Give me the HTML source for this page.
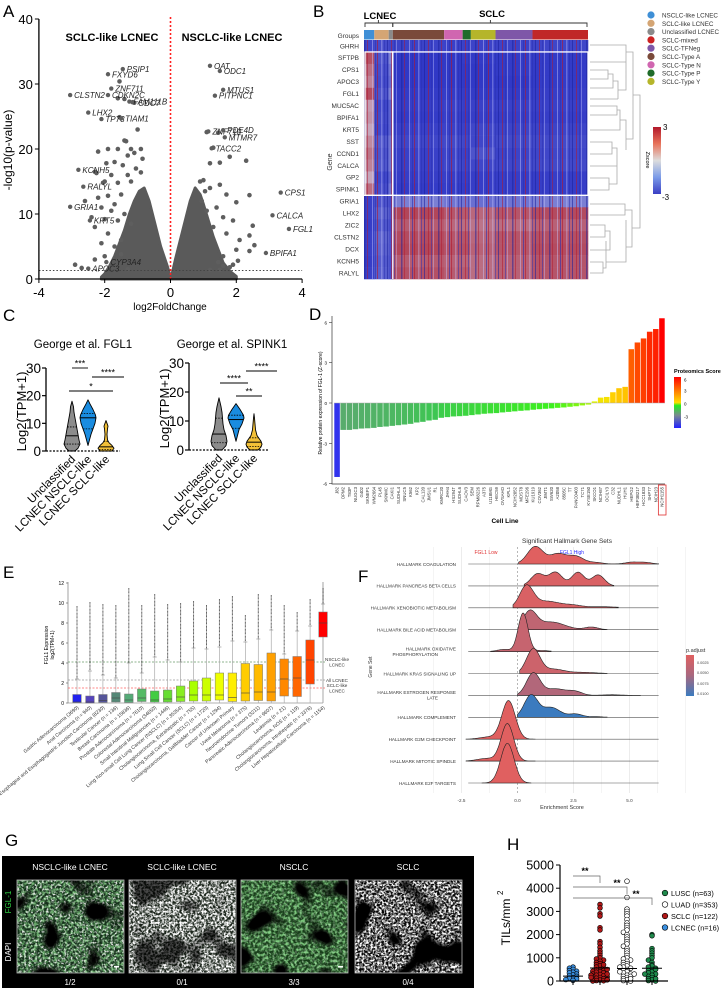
<!DOCTYPE html>
<html><head><meta charset="utf-8"><title>FGL1 multi-panel figure</title>
<style>
html,body{margin:0;padding:0;background:#fff;}
svg{display:block;font-family:"Liberation Sans",Arial,sans-serif;}
</style></head>
<body>
<svg id="fig" width="725" height="992" viewBox="0 0 725 992" xmlns="http://www.w3.org/2000/svg">
<defs>
  <linearGradient id="zgrad" x1="0" y1="0" x2="0" y2="1">
    <stop offset="0" stop-color="#b2182b"/><stop offset="0.25" stop-color="#e8735a"/><stop offset="0.5" stop-color="#dddddd"/><stop offset="0.75" stop-color="#7b9be8"/><stop offset="1" stop-color="#3a3fc4"/>
  </linearGradient>
  <linearGradient id="pgrad" x1="0" y1="0" x2="0" y2="1">
    <stop offset="0" stop-color="#ff0000"/><stop offset="0.3" stop-color="#ff8800"/><stop offset="0.5" stop-color="#ffdd00"/><stop offset="0.56" stop-color="#22ee22"/><stop offset="0.75" stop-color="#7a8a90"/><stop offset="1" stop-color="#2222ff"/>
  </linearGradient>
  <linearGradient id="padjgrad" x1="0" y1="0" x2="0" y2="1">
    <stop offset="0" stop-color="#e06060"/><stop offset="0.5" stop-color="#a8687f"/><stop offset="1" stop-color="#3b7bbf"/>
  </linearGradient>
  <pattern id="stripes" x="0" y="0" width="37" height="12" patternUnits="userSpaceOnUse">
    <rect x="2" y="0" width="1" height="12" fill="#c8c8ff" opacity="0.45"/>
    <rect x="5" y="0" width="1" height="12" fill="#2a30b0" opacity="0.6"/>
    <rect x="7" y="0" width="1" height="12" fill="#b2182b" opacity="0.6"/>
    <rect x="11" y="0" width="1.5" height="12" fill="#c8c8ff" opacity="0.35"/>
    <rect x="14" y="0" width="1" height="12" fill="#2a30b0" opacity="0.5"/>
    <rect x="17" y="0" width="1" height="12" fill="#1a1f9a" opacity="0.55"/>
    <rect x="21" y="0" width="1" height="12" fill="#b2182b" opacity="0.55"/>
    <rect x="24" y="0" width="1" height="12" fill="#2a30b0" opacity="0.5"/>
    <rect x="26" y="0" width="1" height="12" fill="#c8c8ff" opacity="0.4"/>
    <rect x="31" y="0" width="1.5" height="12" fill="#1a1f9a" opacity="0.5"/>
    <rect x="34" y="0" width="1" height="12" fill="#b2182b" opacity="0.5"/>
  </pattern>
  <filter id="speckW" x="0" y="0" width="100%" height="100%">
    <feTurbulence type="fractalNoise" baseFrequency="0.45" numOctaves="2" seed="3"/>
    <feColorMatrix type="matrix" values="0 0 0 0 1  0 0 0 0 1  0 0 0 0 1  4 0 0 0 -1.9"/>
  </filter>
  <filter id="speckW2" x="0" y="0" width="100%" height="100%">
    <feTurbulence type="fractalNoise" baseFrequency="0.45" numOctaves="2" seed="8"/>
    <feColorMatrix type="matrix" values="0 0 0 0 1  0 0 0 0 1  0 0 0 0 1  4 0 0 0 -1.7"/>
  </filter>
  <filter id="speckG" x="0" y="0" width="100%" height="100%">
    <feTurbulence type="fractalNoise" baseFrequency="0.35" numOctaves="2" seed="5"/>
    <feColorMatrix type="matrix" values="0 0 0 0 0.25  0 0 0 0 0.7  0 0 0 0 0.25  3 0 0 0 -1.2"/>
  </filter>
  <filter id="blobs" x="0" y="0" width="100%" height="100%">
    <feTurbulence type="fractalNoise" baseFrequency="0.03" numOctaves="2" seed="11"/>
    <feColorMatrix type="matrix" values="0 0 0 0 0  0 0 0 0 0  0 0 0 0 0  8 0 0 0 -4.2"/>
  </filter>
</defs>
<g id="root"></g>
</svg>
<script>
// ================= DATA =================
const volcLabelGenes = ["PSIP1","FXYD6","ZNF711","CLSTN2","CDKN2C","CDC7","FAM111B","LHX2","TP73","TIAM1","KCNH5","RALYL","GRIA1","KRT5","CYP3A4","APOC3","OAT","ODC1","MTUS1","PITPNC1","ZNF710","PDE4D","MTMR7","TACC2","CPS1","CALCA","FGL1","BPIFA1"];
const volcLabelFC = [-1.45,-1.9,-1.8,-3.05,-1.9,-1.1,-1.25,-2.5,-2.1,-1.5,-2.8,-2.65,-3.05,-2.45,-1.95,-2.5,1.2,1.5,1.6,1.35,1.15,1.6,1.65,1.25,3.35,3.1,3.6,2.9];
const volcLabelP = [32.3,31.5,29.3,28.3,28.3,27.1,27.3,25.6,24.6,24.7,16.8,14.2,11.1,9.0,2.6,1.6,32.8,32.0,29.1,28.2,22.7,22.9,21.8,20.1,13.3,9.8,7.7,4.0];
const volcFC = [-1.55,-1.35,-1.0,-1.2,-1.6,-1.9,-2.2,-1.1,-0.9,-1.3,-1.7,-0.85,-1.95,-1.45,-1.05,-2.3,-1.8,-1.3,-0.9,-2.0,-1.6,-1.2,-2.6,-2.2,-1.9,-1.5,-1.7,-2.1,-1.8,-1.4,-2.4,-2.0,-1.6,-1.2,-2.3,-1.9,-1.5,-2.1,-1.7,-2.0,-2.3,-1.5,-2.7,-2.9,-1.3,-1.6,-1.4,-1.15,-1.55,-2.25,-2.05,-1.4,
  2.3,1.8,1.2,1.0,0.9,1.5,1.2,1.7,2.4,2.0,1.4,1.1,1.6,1.9,2.5,1.3,1.7,2.4,2.1,2.0,2.4,2.55,1.6,2.05,1.9,1.8,1.5,1.2,1.6,0.95,1.05,1.1,1.45,1.5,1.3,1.45];
const volcP = [30.4,21.2,23.0,20.0,20.0,20.0,19.6,19.4,20.0,19.0,18.0,18.5,17.8,17.5,17.0,16.5,16.0,16.0,16.4,15.0,14.8,15.0,12.0,12.5,12.8,13.0,11.5,11.0,10.5,10.0,9.5,9.2,9.0,8.5,8.0,7.0,6.0,5.5,5.0,3.5,3.0,3.8,1.7,2.2,1.5,27.8,27.7,27.2,24.9,16.3,14.8,21.3,
  18.2,18.8,17.8,15.2,15.0,14.5,14.0,13.0,12.9,11.8,11.0,10.5,9.5,9.0,8.2,8.0,7.0,6.7,6.0,4.5,4.3,5.2,3.5,2.8,2.2,1.8,1.4,1.4,2.0,12.0,13.5,22.6,22.5,17.9,20.2,2.6];
const cloudFC = [0,-0.1,-0.3,-0.5,-0.65,-0.8,-0.95,-1.1,-1.25,-1.4,-1.55,-1.7,-1.85,-2.0,-2.1,-2.1,2.0,2.0,1.8,1.6,1.45,1.3,1.15,1.0,0.9,0.75,0.6,0.45,0.3,0.15,0.05];
const cloudP  = [0.3,2,5,9,12,14,13.5,12,10,7.5,5.5,3.5,2,0.8,0.3,0,0,0.4,1.2,2.5,4.5,6.5,9,11.5,13,14,12,9,6,3,0.8];
const volcXTicks = [-4,-2,0,2,4];
const volcYTicks = [0,10,20,30,40];

const heatGenes = ["GHRH","SFTPB","CPS1","APOC3","FGL1","MUC5AC","BPIFA1","KRT5","SST","CCND1","CALCA","GP2","SPINK1","GRIA1","LHX2","ZIC2","CLSTN2","DCX","KCNH5","RALYL"];
const heatGroups = ["NSCLC-like LCNEC","SCLC-like LCNEC","Unclassified LCNEC","SCLC-Type A","SCLC-Type N","SCLC-Type P","SCLC-Type Y","SCLC-TFNeg","SCLC-mixed"];
const heatGroupCounts = [5,7,2,25,9,4,12,18,27];
const legendGroups = ["NSCLC-like LCNEC","SCLC-like LCNEC","Unclassified LCNEC","SCLC-mixed","SCLC-TFNeg","SCLC-Type A","SCLC-Type N","SCLC-Type P","SCLC-Type Y"];
const legendColors = ["#3f8fd6","#d4a574","#8a8a8a","#cc2222","#7e57a8","#7a4a3a","#d066b0","#1f6b2a","#b5b52a"];
const heatZ = [
 [-2.0,-1.8,-2.0,-2.1,-2.2,-2.2,-2.1,-2.1,-2.0],
 [1.4,-1.6,-0.5,-2.5,-2.5,-2.4,-2.4,-2.4,-2.4],
 [0.9,-1.8,-0.8,-2.5,-2.5,-2.5,-2.5,-2.4,-2.4],
 [0.6,-1.9,-1.0,-2.5,-2.5,-2.5,-2.5,-2.5,-2.4],
 [1.5,-1.6,-0.6,-2.4,-2.4,-2.4,-2.4,-2.4,-2.3],
 [0.3,-2.0,-1.2,-2.3,-2.2,-2.3,-2.2,-2.2,-2.2],
 [0.4,-1.9,-1.2,-2.4,-2.3,-2.4,-2.3,-2.3,-2.3],
 [0.2,-2.0,-1.2,-2.2,-2.2,-2.2,-2.0,-2.1,-2.1],
 [0.5,-1.4,-0.8,-2.0,-1.9,-2.0,-2.0,-1.9,-1.9],
 [0.8,-1.6,-0.8,-2.2,-2.1,-2.2,-1.6,-2.1,-2.0],
 [0.6,-1.5,-0.8,-2.2,-2.0,-2.1,-2.0,-2.0,-1.9],
 [0.2,-2.0,-1.2,-2.3,-2.3,-2.3,-2.3,-2.3,-2.3],
 [0.9,-1.8,-0.8,-2.4,-2.4,-2.4,-2.3,-2.3,-2.3],
 [-2.2,-1.6,-1.8,-0.6,-0.8,-0.8,-0.9,-0.8,-0.6],
 [-2.2,-1.2,-1.6,1.6,1.3,1.2,1.0,1.3,1.5],
 [-2.3,-1.5,-1.8,1.2,1.0,0.9,0.8,0.9,1.1],
 [-2.2,-1.1,-1.6,1.5,1.3,1.3,1.0,1.3,1.4],
 [-2.2,-1.2,-1.6,1.6,1.4,1.4,1.1,1.3,1.5],
 [-2.3,-1.4,-1.7,1.2,1.1,1.0,0.9,1.1,1.3],
 [-2.2,-1.3,-1.7,1.4,1.2,1.2,0.9,1.1,1.3]
];

const violinCats = ["Unclassified","LCNEC NSCLC-like","LCNEC SCLC-like"];
const fglProfiles = [
 [[0,3],[1,6],[2.5,8],[4,7],[6,6],[8,5],[10,4],[12,3],[14,2],[16,1.5],[18,0]],
 [[2,0],[4,1.5],[6,3],[8,5],[10,7],[12,8],[13,7.5],[15,5],[17,2],[18.5,0]],
 [[0,6],[1,8],[2,6],[3,3],[4,1.5],[6,1],[8,1.5],[9,2],[10,1],[11,0]]
];
const fglQuart = [[2.5,5.5,8.7],[8,12,13.5],[0.5,1.5,3.5]];
const spkProfiles = [
 [[0,3],[1.5,7],[3,8],[5,7],[7,5],[9,4],[11,3.5],[13,3],[15,2],[18,0]],
 [[3,0],[5,1.5],[7,3],[9,6],[11,8],[12,7.5],[14,4],[16,0]],
 [[0,4],[1,7],[2,8],[3,7],[4,5],[5,3],[7,1.5],[9,1],[11,0.5],[12.5,0]]
];
const spkQuart = [[2.5,5.5,11],[7.5,10.5,12],[1.2,2.7,4.2]];
const violinTicks = [0,10,20,30];

const cellLines = ["J82","OPM2","T83P","NUGC3","G402","SKNEP1","WM2664","PL45","SKNMC","CAKI1","SUDHL4","SNUC5","K562","KP2","CAL120","JMSU1","RL","KMRC20","JHH4","HS294T","SUDHL6","CAOV3","SEM","RPMI8226","A375","U118MG","HEC59","OVSAHO","KPL1","NCIH2052","MDST8","MFE296","KU1919","COV362","JIMT1","SW620","A2058","8505C","TT","PANC0403","TC71","KYSE150","SKCO1","NCIH87","OCILY3","C32","NUDHL1","HUH1","HEPG2","HEP3B217","HCC1833","SHP77","NCIH23","NCIH1155"];
const fglZ = [-5.5,-2.0,-2.0,-1.95,-1.9,-1.88,-1.85,-1.78,-1.75,-1.7,-1.65,-1.6,-1.55,-1.45,-1.4,-1.3,-1.25,-1.1,-1.05,-1.0,-0.98,-0.95,-0.9,-0.85,-0.8,-0.77,-0.75,-0.7,-0.66,-0.62,-0.58,-0.55,-0.5,-0.46,-0.43,-0.4,-0.36,-0.33,-0.28,-0.24,-0.18,-0.12,0.12,0.4,0.45,0.8,1.1,1.2,4.0,4.5,4.8,5.3,5.5,6.3];
const dTicks = [-6,-3,0,3,6];

const tumorTypes = ["Gastric Adenocarcinoma (3690)","Anal Carcinoma (n = 940)","Esophageal and Esophagogastric Junction Carcinoma (8230)","Testicular Cancer (n = 136)","Breast Carcinoma (n = 15836)","Prostate Adenocarcinoma (n = 7610)","Colorectal Adenocarcinoma (34650)","Small Intestinal Malignancies (n = 1446)","Lung Non-small Cell Lung Cancer (NSCLC) (n = 35354)","Cholangiocarcinoma, Extrahepatic (n = 755)","Lung Small Cell Cancer (SCLC) (n = 1720)","Cholangiocarcinoma, Gallbladder Cancer (n = 1294)","Cancer of Unknown Primary","Uveal Melanoma (n = 375)","Neuroendocrine Tumors (3211)","Pancreatic Adenocarcinoma (n = 9607)","Leukemia (n = 21)","Cholangiocarcinoma, NOS (n = 119)","Cholangiocarcinoma, Intrahepatic (n = 3376)","Liver Hepatocellular Carcinoma (n = 1154)"];
const boxQ1  = [0.05,0,0.05,0.1,0.05,0.15,0.1,0.1,0.15,0.2,0.2,0.3,0.15,0.2,0.25,0.2,0.7,0.65,1.9,6.6];
const boxMed = [0.1,0.1,0.25,0.5,0.3,0.5,0.3,0.4,0.6,0.8,0.8,0.8,0.55,1.0,1.1,1.1,2.4,2.5,4.3,8.0];
const boxQ3  = [0.85,0.7,0.85,1.05,0.9,1.4,1.2,1.3,1.7,2.2,2.5,3.0,3.0,3.95,3.85,5.0,4.4,4.65,6.3,9.1];
const boxWhisk = [2.4,3.2,2.8,2.5,4.0,3.0,4.6,4.3,4.1,5.5,5.4,5.6,6.2,6.1,6.4,7.3,4.9,7.2,7.7,9.9];
const boxOutMax = [9.7,10.1,9.9,9.8,11.5,9.8,10.9,9.9,10.0,10.2,9.8,10.4,10.7,8.8,10.9,10.8,9.8,9.1,10.4,11.5];
const refLines = [4.1,2.3,1.5];
const refLabels = [["NSCLC-like","LCNEC"],["All LCNEC"],["SCLC-like","LCNEC"]];
const eTicks = [0,2,4,6,8,10,12];

const ridgeSets = ["HALLMARK COAGULATION","HALLMARK PANCREAS BETA CELLS","HALLMARK XENOBIOTIC METABOLISM","HALLMARK BILE ACID METABOLISM","HALLMARK OXIDATIVE|PHOSPHORYLATION","HALLMARK KRAS SIGNALING UP","HALLMARK ESTROGEN RESPONSE|LATE","HALLMARK COMPLEMENT","HALLMARK G2M CHECKPOINT","HALLMARK MITOTIC SPINDLE","HALLMARK E2F TARGETS"];
const ridgePadj = [0.0015,0.002,0.002,0.004,0.0035,0.003,0.005,0.0100,0.001,0.001,0.001];
const ridgeRange = [[0.05,6.3],[0.3,4.3],[-0.2,4.5],[0.1,4.0],[-1.2,1.5],[0.1,4.0],[0.0,5.5],[0.0,4.0],[-2.3,0.8],[-2.3,0.8],[-1.6,0.6]];
const ridgeComps = [
 [[0.8,0.8,0.35],[1.8,0.45,0.35],[2.6,0.35,0.35],[3.5,0.07,0.3],[5.1,0.08,0.3],[5.7,0.07,0.3]],
 [[0.9,0.55,0.3],[1.7,0.62,0.3],[2.7,0.62,0.28],[3.6,0.5,0.28]],
 [[0.4,0.95,0.3],[1.3,0.3,0.6],[2.5,0.1,0.4],[3.8,0.05,0.6]],
 [[0.55,0.8,0.3],[1.5,0.35,0.6],[3.3,0.12,0.3]],
 [[0.25,1.75,0.22],[-0.6,0.1,0.3],[1.1,0.05,0.3]],
 [[0.7,1.1,0.3],[1.6,0.2,0.5],[3.0,0.05,0.5]],
 [[0.7,1.0,0.3],[1.7,0.3,0.5],[2.6,0.15,0.3],[4.2,0.03,0.4]],
 [[0.6,1.0,0.3],[1.5,0.45,0.4],[2.6,0.15,0.3],[3.5,0.03,0.3]],
 [[-0.4,1.75,0.3],[-1.3,0.1,0.4]],
 [[-0.45,1.7,0.28],[-1.4,0.12,0.4]],
 [[-0.45,1.8,0.3]]
];
const fTicks = [-2.5,0,2.5,5];

const tilGroups = ["LCNEC (n=16)","SCLC (n=122)","LUAD (n=353)","LUSC (n=63)"];
const tilLCNEC = [600,550,500,450,420,380,350,300,260,220,200,150,120,90,60,30];
const tilSCLC = [3300,3150,2900,2800,2300,2200,1700,1600,1450,1300,1200,1100,1000,950,900,850,800,750,700,650,600,550,500,480,450,420,400,380,350,300,280,250,220,200,180,150,120,100,80,60,40,20,10,0,300,500,700,250,150,50];
const tilLUAD = [4300,3600,3100,3000,2900,2800,2650,2500,2400,2300,2200,2100,2000,1900,1800,1700,1600,1500,1400,1300,1200,1100,1000,950,900,850,800,750,700,650,600,550,500,450,400,350,300,250,200,150,100,50,20,0,400,200,100,600,300];
const tilLUSC = [2000,1950,1400,1300,1200,1100,1000,900,800,700,650,600,550,500,450,400,350,300,250,200,150,100,50,20,0,300,100,500];
const tilMedian = [210,560,540,550];
const tilTicks = [0,1000,2000,3000,4000,5000];

// ================= DRAW =================
const NS = "http://www.w3.org/2000/svg";
const root = document.getElementById("root");
function mk(tag, attrs, parent){
  const e = document.createElementNS(NS, tag);
  for (const k in attrs) e.setAttribute(k, attrs[k]);
  (parent||root).appendChild(e);
  return e;
}
function txt(str, attrs, parent){
  const t = mk("text", attrs, parent);
  t.textContent = str;
  return t;
}
function grp(parent){ return mk("g", {}, parent); }

const letters = [["A",3,17],["B",313,17],["C",3,321],["D",309,320],["E",3,578],["F",358,582],["G",5,846],["H",507,850]];
for (const L of letters){
  const t = txt(L[0], {x:L[1], y:L[2], "font-size":17});
  
  
}

// ---------- Panel A ----------
const gA = grp();  
const xA = v => 170.5 + v*32.9;
const yA = v => 279 - v*6.5;
{
  let pts = cloudFC.map((f,i)=> xA(f)+","+yA(cloudP[i])).join(" ");
  const cl = mk("polygon",{points:pts, fill:"#5a5a5a", stroke:"#5a5a5a","stroke-width":3,"stroke-linejoin":"round"}, gA);
   
  for (let i=0;i<volcFC.length;i++){
    const c = mk("circle",{cx:xA(volcFC[i]), cy:yA(volcP[i]), r:2.3, fill:"#5e5e5e"}, gA);
     
  }
  for (let i=0;i<volcLabelGenes.length;i++){
    const c = mk("circle",{cx:xA(volcLabelFC[i]), cy:yA(volcLabelP[i]), r:2.2, fill:"#5e5e5e"}, gA);
     
    const t = txt(volcLabelGenes[i], {x:xA(volcLabelFC[i])+4, y:yA(volcLabelP[i])+3, "font-size":8, "font-style":"italic", fill:"#222"}, gA);
     
  }
  const thr = mk("line",{x1:xA(-4),x2:xA(4),y1:yA(1.3),y2:yA(1.3),stroke:"#444","stroke-width":1,"stroke-dasharray":"1.5,2"}, gA);
   
  const zl = mk("line",{x1:xA(0),x2:xA(0),y1:17,y2:yA(0),stroke:"#ff2020","stroke-width":1.6,"stroke-dasharray":"2,2"}, gA);
   
  const ax = mk("path",{d:`M${xA(-4)},${yA(40)} V${yA(0)} H${xA(4)}`, fill:"none", stroke:"#000","stroke-width":1.3}, gA);
   
  for (const v of volcYTicks){
    mk("line",{x1:xA(-4)-4,x2:xA(-4),y1:yA(v),y2:yA(v),stroke:"#000"}, gA);
    const t = txt(String(v),{x:xA(-4)-6,y:yA(v)+5,"font-size":13,"text-anchor":"end"}, gA);
     
  }
  for (const v of volcXTicks){
    mk("line",{x1:xA(v),x2:xA(v),y1:yA(0),y2:yA(0)+4,stroke:"#000"}, gA);
    const t = txt(String(v),{x:xA(v),y:297,"font-size":13,"text-anchor":"middle"}, gA);
     
  }
  const yl = txt("-log10(p-value)",{x:0,y:0,"font-size":12,"text-anchor":"middle",transform:"translate(12,150) rotate(-90)"}, gA);
   
  const xl = txt("log2FoldChange",{x:170,y:310,"font-size":10,"text-anchor":"middle"}, gA);
   
  const t1 = txt("SCLC-like LCNEC",{x:112,y:41,"font-size":11,"font-weight":"bold","text-anchor":"middle"}, gA);
   
  const t2 = txt("NSCLC-like LCNEC",{x:232,y:41,"font-size":11,"font-weight":"bold","text-anchor":"middle"}, gA);
   
}

// ---------- Panel B ----------
const gB = grp();  
function zcol(z){
  const t = Math.max(-2.5,Math.min(2.5,z));
  const mid=[205,205,228], blue=[48,56,198], red=[170,28,48];
  let c;
  if (t<0){ const f=Math.pow(-t/2.5,0.45); c=mid.map((x,k)=>Math.round(x+(blue[k]-x)*f)); }
  else { const f=Math.pow(t/2.5,0.6); c=mid.map((x,k)=>Math.round(x+(red[k]-x)*f)); }
  return `rgb(${c[0]},${c[1]},${c[2]})`;
}
{
  const hx0=364, hx1=588, hy0=40, rowH=11.95;
  const total = heatGroupCounts.reduce((a,b)=>a+b,0);
  const colW = (hx1-hx0)/total;
  const gcolors = {"NSCLC-like LCNEC":"#3f8fd6","SCLC-like LCNEC":"#d4a574","Unclassified LCNEC":"#8a8a8a","SCLC-Type A":"#7a4a3a","SCLC-Type N":"#d066b0","SCLC-Type P":"#1f6b2a","SCLC-Type Y":"#b5b52a","SCLC-TFNeg":"#7e57a8","SCLC-mixed":"#c02828"};
  let cx = hx0;
  const starts=[];
  for (let g=0; g<heatGroups.length; g++){
    const w = heatGroupCounts[g]*colW;
    starts.push(cx);
    const r = mk("rect",{x:cx,y:30,width:w,height:9.5,fill:gcolors[heatGroups[g]]}, gB);
     
    for (let i=0;i<heatGenes.length;i++){
      const c = mk("rect",{x:cx,y:hy0+i*rowH,width:w+0.3,height:rowH+0.3,fill:zcol(heatZ[i][g])}, gB);
       
    }
    cx += w;
  }
  const tex = mk("rect",{x:hx0,y:hy0,width:hx1-hx0,height:rowH*20,fill:"url(#stripes)"}, gB);
   
  const split = starts[3];
  const box1 = mk("rect",{x:hx0+1,y:hy0+rowH,width:split-hx0-1,height:rowH*12,fill:"none",stroke:"#fff","stroke-width":1.3}, gB);
   
  const box2 = mk("rect",{x:split,y:hy0+rowH,width:hx1-split,height:rowH*12,fill:"none",stroke:"#fff","stroke-width":1.3}, gB);
   
  mk("line",{x1:split,x2:split,y1:hy0+rowH*13,y2:hy0+rowH*20,stroke:"#fff","stroke-width":1.2}, gB);
  mk("line",{x1:hx0,x2:hx1,y1:hy0+rowH*13,y2:hy0+rowH*13,stroke:"#fff","stroke-width":1.2}, gB);
  const gl = txt("Groups",{x:359,y:38,"font-size":6.5,"text-anchor":"end",fill:"#333"}, gB);
   
  for (let i=0;i<heatGenes.length;i++){
    const t = txt(heatGenes[i],{x:359,y:hy0+i*rowH+rowH/2+2.3,"font-size":6.5,"text-anchor":"end",fill:"#333"}, gB);
     
  }
  const gy = txt("Gene",{x:0,y:0,"font-size":7,"text-anchor":"middle",fill:"#333",transform:"translate(332,162) rotate(-90)"}, gB);
   
  const br1 = mk("path",{d:`M${hx0+1},27 V23 H${split} V27 M${(hx0+split)/2},23 V20`,fill:"none",stroke:"#333","stroke-width":0.9}, gB);
   
  const br2 = mk("path",{d:`M${split},27 V23 H${hx1-1} V27 M${(split+hx1)/2},23 V20`,fill:"none",stroke:"#333","stroke-width":0.9}, gB);
   
  const l1 = txt("LCNEC",{x:380,y:19,"font-size":9.5,"font-weight":"bold","text-anchor":"middle"}, gB);
   
  const l2 = txt("SCLC",{x:492,y:17,"font-size":9.5,"font-weight":"bold","text-anchor":"middle"}, gB);
   
  const dg = mk("path",{d:
   "M590,45 H626 V62 H590 M590,62 H626 M626,52 H633 V139 H626 " +
   "M590,70 H608 V79 H590 M608,74 H613 V88 H590 M613,81 H618 V99 H618 M590,99 H618 M618,90 H626 V62 " +
   "M590,106 H617 V115 H590 M617,110 H620 V130 H590 M590,142 H612 V154 H590 M612,148 H617 V166 H590 M590,178 H609 V190 H590 M609,184 H617 V160 M620,120 H626 V150 " +
   "M590,204 H625 V215 H590 M625,210 H632 V247 H626 M590,225 H605 V237 H590 M605,231 H610 V250 H590 M590,262 H603 V273 H590 M603,268 H606 V241 M626,220 V262 H606 M632,228 H640 V95 H633",
   fill:"none",stroke:"#aaa","stroke-width":0.8}, gB);
   
  for (let i=0;i<legendGroups.length;i++){
    const c = mk("circle",{cx:651,cy:15+i*8.3,r:3.6,fill:legendColors[i]}, gB);
     
    const t = txt(legendGroups[i],{x:662,y:17.5+i*8.3,"font-size":6.3,fill:"#333"}, gB);
     
  }
  const cb = mk("rect",{x:653,y:127,width:8,height:67,fill:"url(#zgrad)"}, gB);
   
  txt("3",{x:663,y:130,"font-size":8}, gB);
  txt("-3",{x:662,y:200,"font-size":8}, gB);
  const zl = txt("Zscore",{x:0,y:0,"font-size":5.5,"text-anchor":"middle",transform:"translate(646,160) rotate(90)"}, gB);
   
}

// ---------- Panel C ----------
function violinChart(name, title, titleX, axX, cats, yTop, yZero, profiles, quart, colors, sigs){
  const g = grp();  
  const yC = v => yZero - v*(yZero-yTop)/30;
  const tt = txt(title,{x:titleX,y:348,"font-size":11.5,"text-anchor":"middle"}, g);
   
  for (let k=0;k<profiles.length;k++){
    const p = profiles[k], x = cats[k];
    let d = "M"+(x)+","+yC(p[0][0]);
    for (const q of p) d += " L"+(x+q[1])+","+yC(q[0]);
    for (let j=p.length-1;j>=0;j--) d += " L"+(x-p[j][1])+","+yC(p[j][0]);
    d += "Z";
    const v = mk("path",{d:d,fill:colors[k],stroke:"#000","stroke-width":0.9,"stroke-linejoin":"round"}, g);
     
    const wAt = val => { for (let j=1;j<p.length;j++){ if (val<=p[j][0]){ const f=(val-p[j-1][0])/(p[j][0]-p[j-1][0]); return p[j-1][1]+f*(p[j][1]-p[j-1][1]); } } return 0; };
    quart[k].forEach((qv,qi)=>{
      const w = wAt(qv);
      const l = mk("line",{x1:x-w,x2:x+w,y1:yC(qv),y2:yC(qv),stroke:"#000","stroke-width":qi===1?1:0.8,"stroke-dasharray":qi===1?"":"1.5,1.2"}, g);
       
    });
  }
  const ax = mk("line",{x1:axX,x2:axX,y1:yC(30),y2:yC(0),stroke:"#000","stroke-width":1.3}, g);
   
  const bl = mk("line",{x1:axX,x2:cats[2]+14,y1:yC(0),y2:yC(0),stroke:"#000","stroke-width":1.3,"stroke-dasharray":"2,1.5"}, g);
   
  for (const v of violinTicks){
    mk("line",{x1:axX-4,x2:axX,y1:yC(v),y2:yC(v),stroke:"#000","stroke-width":1.2}, g);
    const t = txt(String(v),{x:axX-5,y:yC(v)+5,"font-size":13.5,"text-anchor":"end"}, g);
     
  }
  const yl = txt("Log2(TPM+1)",{x:0,y:0,"font-size":13,"text-anchor":"middle",transform:`translate(${axX-20},${(yC(0)+yC(30))/2+2}) rotate(-90)`}, g);
   
  for (let k=0;k<cats.length;k++){
    const t = txt(violinCats[k],{x:0,y:0,"font-size":11.5,"text-anchor":"end",transform:`translate(${cats[k]+4},${yC(0)+9}) rotate(-45)`}, g);
     
  }
  for (const s of sigs){
    const l = mk("line",{x1:s[0],x2:s[1],y1:s[2],y2:s[2],stroke:"#000","stroke-width":0.9}, g);
     
    const t = txt(s[3],{x:(s[0]+s[1])/2,y:s[2]-1.5,"font-size":9,"text-anchor":"middle"}, g);
     
  }
}
violinChart("violin-fgl1","George et al. FGL1",83,46,[72,88,106],368,451,fglProfiles,fglQuart,["#8c8c8c","#1a8ce0","#f2c037"],
  [[72,88,368,"***"],[92,124,377,"****"],[69,113,391,"*"]]);
violinChart("violin-spink1","George et al. SPINK1",232,189,[219,236,254],363,450,spkProfiles,spkQuart,["#8c8c8c","#1a8ce0","#f2c037"],
  [[246,277,371,"****"],[220,248,383,"****"],[236,262,396,"**"]]);

// ---------- Panel D ----------
const gD = grp();  
const yD = v => 403 - v*13.45;
const dx0 = 334, dx1 = 665;
const dbw = (dx1-dx0)/fglZ.length;
function pcol(v){
  const stops = [[-6,[34,34,255]],[-3,[122,138,144]],[-1.2,[60,200,80]],[-0.4,[60,240,30]],[0,[220,255,0]],[0.6,[255,215,0]],[3,[255,136,0]],[6.3,[255,0,0]]];
  if (v<=stops[0][0]) return "rgb(34,34,255)";
  for (let i=1;i<stops.length;i++){
    if (v<=stops[i][0]){
      const f=(v-stops[i-1][0])/(stops[i][0]-stops[i-1][0]);
      const a=stops[i-1][1], b=stops[i][1];
      return `rgb(${Math.round(a[0]+(b[0]-a[0])*f)},${Math.round(a[1]+(b[1]-a[1])*f)},${Math.round(a[2]+(b[2]-a[2])*f)})`;
    }
  }
  return "rgb(255,0,0)";
}
{
  for (let i=0;i<fglZ.length;i++){
    const v = fglZ[i];
    const r = mk("rect",{x:dx0+i*dbw+0.3,y:Math.min(yD(v),yD(0)),width:dbw-0.6,height:Math.abs(yD(v)-yD(0)),fill:pcol(v)}, gD);
     
    const t = txt(cellLines[i],{x:0,y:0,"font-size":4.3,"text-anchor":"end",fill:"#333",transform:`translate(${dx0+i*dbw+dbw/2+1.5},487) rotate(-90)`}, gD);
     
  }
  const hl = mk("rect",{x:dx0+(fglZ.length-1)*dbw-0.5,y:485,width:dbw+1.5,height:30,fill:"none",stroke:"#e03030","stroke-width":0.8}, gD);
   
  mk("line",{x1:dx0,x2:dx1,y1:yD(0),y2:yD(0),stroke:"#aaa","stroke-width":0.6}, gD);
  const ax = mk("path",{d:`M332,316 V484 H${dx1}`,fill:"none",stroke:"#333","stroke-width":0.7}, gD);
   
  for (const v of dTicks){
    mk("line",{x1:329,x2:332,y1:yD(v),y2:yD(v),stroke:"#333","stroke-width":0.6}, gD);
    const t = txt(String(v),{x:327,y:yD(v)+2,"font-size":4.5,"text-anchor":"end"}, gD);
     
  }
  const yl = txt("Relative protein expression of FGL-1 (Z-score)",{x:0,y:0,"font-size":5,"text-anchor":"middle",transform:"translate(322,403) rotate(-90)"}, gD);
   
  const xl = txt("Cell Line",{x:505,y:523,"font-size":6.5,"font-weight":"bold","text-anchor":"middle"}, gD);
   
  const lt = txt("Proteomics Score",{x:674,y:373,"font-size":5.5,"font-weight":"bold"}, gD);
   
  const cb = mk("rect",{x:674,y:377,width:7,height:51,fill:"url(#pgrad)"}, gD);
   
  [["6",380],["3",391],["0",404],["-3",417]].forEach(a=>{ txt(a[0],{x:684,y:a[1]+1.5,"font-size":4.5}, gD); });
}

// ---------- Panel E ----------
const gE = grp();  
const xE = i => 77 + i*12.95;
const yE = v => 703 - v*10;
const boxColors = ["#2222ee","#5544bb","#555599","#558877","#55aa77","#55bb66","#44cc44","#66dd33","#88ee22","#aaff00","#ccff00","#eeff00","#ffee00","#ffcc00","#ffbb00","#ffa000","#ff8800","#ff6600","#ff4400","#ff0000"];
{
  for (const v of eTicks){
    mk("line",{x1:66,x2:68,y1:yE(v),y2:yE(v),stroke:"#555","stroke-width":0.6}, gE);
    const t = txt(String(v),{x:64,y:yE(v)+1.8,"font-size":5,"text-anchor":"end"}, gE);
     
  }
  mk("path",{d:"M68,582 V703 H323 M323,582 V703",fill:"none",stroke:"#666","stroke-width":0.6}, gE);
  const refCols = ["#6a9a6a","#999","#ff6060"];
  refLines.forEach((v,i)=>{
    const l = mk("line",{x1:68,x2:325,y1:yE(v),y2:yE(v),stroke:refCols[i],"stroke-width":0.7,"stroke-dasharray":"2,1.5"}, gE);
     
    refLabels[i].forEach((s,j)=>{
      const t = txt(s,{x:337,y:yE(v)+j*5.5-(refLabels[i].length>1?1:-2),"font-size":4.6,"text-anchor":"middle",fill:"#333"}, gE);
       
    });
  });
  for (let i=0;i<tumorTypes.length;i++){
    const x = xE(i);
    const ol = mk("line",{x1:x,x2:x,y1:yE(boxOutMax[i]),y2:yE(boxWhisk[i]),stroke:"#333","stroke-width":1,"stroke-dasharray":"0.8,0.6"}, gE);
     
    const wk = mk("line",{x1:x,x2:x,y1:yE(boxWhisk[i]),y2:yE(0),stroke:"#aaa","stroke-width":0.7}, gE);
     
    mk("line",{x1:x-2,x2:x+2,y1:yE(boxWhisk[i]),y2:yE(boxWhisk[i]),stroke:"#888","stroke-width":0.6}, gE);
    const b = mk("rect",{x:x-4.3,y:yE(boxQ3[i]),width:8.6,height:yE(boxQ1[i])-yE(boxQ3[i]),fill:boxColors[i],stroke:"#777","stroke-width":0.5}, gE);
     
    const m = mk("line",{x1:x-4.3,x2:x+4.3,y1:yE(boxMed[i]),y2:yE(boxMed[i]),stroke:"#444","stroke-width":0.6}, gE);
     
    const t = txt(tumorTypes[i],{x:0,y:0,"font-size":5,"text-anchor":"end",fill:"#333",transform:`translate(${x+2},708) rotate(-40)`}, gE);
     
  }
  const yl = txt("FGL1 Expression",{x:0,y:0,"font-size":5,"text-anchor":"middle",transform:"translate(48,645) rotate(-90)"}, gE);
   
  txt("log2(TPM+1)",{x:0,y:0,"font-size":5,"text-anchor":"middle",transform:"translate(54,645) rotate(-90)"}, gE);
}

// ---------- Panel F ----------
const gF = grp();  
const xF = v => 517.5 + v*22.4;
const baseF = i => 564 + i*21.9;
function padjCol(p){
  const f = Math.max(0,Math.min(1,(p-0.0015)/(0.01-0.0015)));
  const a=[224,96,96], m=[168,104,127], b=[59,123,191];
  let c;
  if (f<0.5){ const t=f/0.5; c=a.map((x,k)=>Math.round(x+(m[k]-x)*t)); }
  else { const t=(f-0.5)/0.5; c=m.map((x,k)=>Math.round(x+(b[k]-x)*t)); }
  return `rgb(${c[0]},${c[1]},${c[2]})`;
}
{
  const tt = txt("Significant Hallmark Gene Sets",{x:567,y:543,"font-size":6.5,"text-anchor":"middle",fill:"#333"}, gF);
   
  for (let v=-3.75; v<=7.5; v+=1.25){
    const major = fTicks.indexOf(v)>=0;
    const l = mk("line",{x1:xF(v),x2:xF(v),y1:547,y2:793,stroke:v===0?"#999":"#e4e4e4","stroke-width":major?0.7:0.4,"stroke-dasharray":v===0?"2,2":""}, gF);
     
  }
  const lo = txt("FGL1 Low",{x:486,y:554,"font-size":5,fill:"#e03030","text-anchor":"middle"}, gF);
   
  const hi = txt("FGL1 High",{x:572,y:554,"font-size":5,fill:"#2a2aff","text-anchor":"middle"}, gF);
   
  for (let i=0;i<ridgeSets.length;i++){
    const b = baseF(i);
    const bl = mk("line",{x1:xF(-2.2),x2:xF(6.3),y1:b,y2:b,stroke:"#555","stroke-width":0.6}, gF);
     
    const [s,e] = ridgeRange[i];
    let d = `M${xF(s)},${b}`;
    for (let k=0;k<=80;k++){
      const v = s + (e-s)*k/80;
      let h=0;
      for (const c of ridgeComps[i]) h += c[1]*Math.exp(-0.5*((v-c[0])/c[2])**2);
      d += ` L${xF(v).toFixed(1)},${(b - h*22).toFixed(1)}`;
    }
    d += ` L${xF(e)},${b} Z`;
    const p = mk("path",{d:d,fill:padjCol(ridgePadj[i]),stroke:"#222","stroke-width":0.6}, gF);
     
    const parts = ridgeSets[i].split("|");
    parts.forEach((s2,j)=>{
      const t = txt(s2,{x:456-(parts.length>1&&j===1?18:0),y:b+1.8+(j-(parts.length-1))*5.5+(parts.length>1?2.5:0),"font-size":4.6,"text-anchor":"end",fill:"#333"}, gF);
       
    });
  }
  for (const v of fTicks){
    const t = txt(v.toFixed(1),{x:xF(v),y:802,"font-size":4.6,"text-anchor":"middle",fill:"#444"}, gF);
     
  }
  const xl = txt("Enrichment Score",{x:562,y:809,"font-size":5.5,"text-anchor":"middle",fill:"#333"}, gF);
   
  const yl = txt("Gene Set",{x:0,y:0,"font-size":5,"text-anchor":"middle",fill:"#333",transform:"translate(372,667) rotate(-90)"}, gF);
   
  const lt = txt("p.adjust",{x:686,y:652,"font-size":5.5,fill:"#333"}, gF);
   
  const cb = mk("rect",{x:686,y:655,width:8,height:41,fill:"url(#padjgrad)"}, gF);
   
  [["0.0025",664],["0.0050",674],["0.0075",685],["0.0100",695]].forEach(a=>{ txt(a[0],{x:697,y:a[1],"font-size":3.8,fill:"#444"}, gF); });
}

// ---------- Panel G ----------
const gG = grp();  
{
  const bg = mk("rect",{x:2,y:856,width:472,height:132,fill:"#000"}, gG);
   
  const heads = ["NSCLC-like LCNEC","SCLC-like LCNEC","NSCLC","SCLC"];
  const fracs = ["1/2","0/1","3/3","0/4"];
  const imgX = [17,129,241,355];
  const base = ["#14301a","#1a241a","#173d19","#030303"];
  const speck = [["speckW","speckG"],["speckW2","speckW"],["speckG","speckW"],["speckW2","speckW"]];
  const opac = [[0.9,0.7],[1,0.8],[0.9,0.25],[1,0.6]];
  const voidOp = [1,0.7,1,1];
  for (let i=0;i<4;i++){
    const h = txt(heads[i],{x:imgX[i]+53,y:870,"font-size":8.5,fill:"#fff","text-anchor":"middle"}, gG);
     
    const r = mk("rect",{x:imgX[i],y:880,width:107,height:93,fill:base[i]}, gG);
     
    const s1 = mk("rect",{x:imgX[i],y:880,width:107,height:93,fill:"#fff",filter:`url(#${speck[i][0]})`,opacity:opac[i][0]}, gG);
     
    const s2 = mk("rect",{x:imgX[i],y:880,width:107,height:93,fill:"#fff",filter:`url(#${speck[i][1]})`,opacity:opac[i][1]}, gG);
     
    const bl = mk("rect",{x:imgX[i],y:880,width:107,height:93,fill:"#fff",filter:"url(#blobs)",opacity:voidOp[i]}, gG);
     
    mk("rect",{x:imgX[i],y:880,width:107,height:93,fill:"none",stroke:"#bbb","stroke-width":0.8}, gG);
    mk("rect",{x:imgX[i]+97,y:966,width:5,height:1.5,fill:"#fff"}, gG);
    const f = txt(fracs[i],{x:imgX[i]+53,y:985,"font-size":8,fill:"#fff","text-anchor":"middle"}, gG);
     
  }
  const fg = txt("FGL-1",{x:0,y:0,"font-size":8,fill:"#2ecc40","text-anchor":"middle",transform:"translate(11,902) rotate(-90)"}, gG);
   
  const da = txt("DAPI",{x:0,y:0,"font-size":8,fill:"#fff","text-anchor":"middle",transform:"translate(11,952) rotate(-90)"}, gG);
   
}

// ---------- Panel H ----------
const gH = grp();  
const yH = v => 981 - v*116/5000;
const hX = [573,600,627,652];
{
  const series = [tilLCNEC,tilSCLC,tilLUAD,tilLUSC];
  const fills = ["#3a8fe0","#b01818","#ffffff","#1f8a4c"];
  for (let g=0; g<4; g++){
    const arr = series[g];
    const counts = {};
    for (let i=0;i<arr.length;i++){
      const bin = Math.round(arr[i]/120);
      counts[bin] = (counts[bin]||0)+1;
      const k = counts[bin]-1;
      const off = (k%2===0?1:-1)*Math.ceil(k/2)*3.6;
      const c = mk("circle",{cx:hX[g]+Math.max(-9,Math.min(9,off)),cy:yH(arr[i]),r:2.4,fill:fills[g],stroke:"#000","stroke-width":0.6}, gH);
       
    }
    const m = mk("line",{x1:hX[g]-10,x2:hX[g]+10,y1:yH(tilMedian[g]),y2:yH(tilMedian[g]),stroke:"#000","stroke-width":1}, gH);
     
    mk("line",{x1:hX[g],x2:hX[g],y1:yH(0),y2:yH(0)+4,stroke:"#000"}, gH);
  }
  const ax = mk("path",{d:`M560,${yH(5000)} V${yH(0)} H668`,fill:"none",stroke:"#000","stroke-width":1.2}, gH);
   
  for (const v of tilTicks){
    mk("line",{x1:556,x2:560,y1:yH(v),y2:yH(v),stroke:"#000","stroke-width":1}, gH);
    const t = txt(String(v),{x:554,y:yH(v)+4.5,"font-size":12.5,"text-anchor":"end"}, gH);
     
  }
  const yl = txt("TILs/mm",{x:0,y:0,"font-size":12,"text-anchor":"middle",transform:"translate(510,922) rotate(-90)"}, gH);
   
  txt("2",{x:0,y:0,"font-size":8,transform:"translate(503,895) rotate(-90)"}, gH);
  const sig = [[hX[0],hX[1],876],[hX[0],hX[2],887],[hX[0],hX[3],898]];
  sig.forEach(s=>{
    const p = mk("path",{d:`M${s[0]},${s[2]} H${s[1]} V${s[2]+7}`,fill:"none",stroke:"#666","stroke-width":0.7}, gH);
     
  });
  [[585,874],[617,886],[636,897]].forEach(a=>{ const t=txt("**",{x:a[0],y:a[1],"font-size":9,"font-weight":"bold","text-anchor":"middle"}, gH);   });
  const leg = [["LUSC (n=63)","#1f8a4c"],["LUAD (n=353)","#ffffff"],["SCLC (n=122)","#b01818"],["LCNEC (n=16)","#3a8fe0"]];
  leg.forEach((L,i)=>{
    const c = mk("circle",{cx:665,cy:893+i*11.5,r:2.8,fill:L[1],stroke:"#000","stroke-width":0.6}, gH);
     
    const t = txt(L[0],{x:671,y:896+i*11.5,"font-size":7.3}, gH);
     
  });
}
</script>
</body></html>
